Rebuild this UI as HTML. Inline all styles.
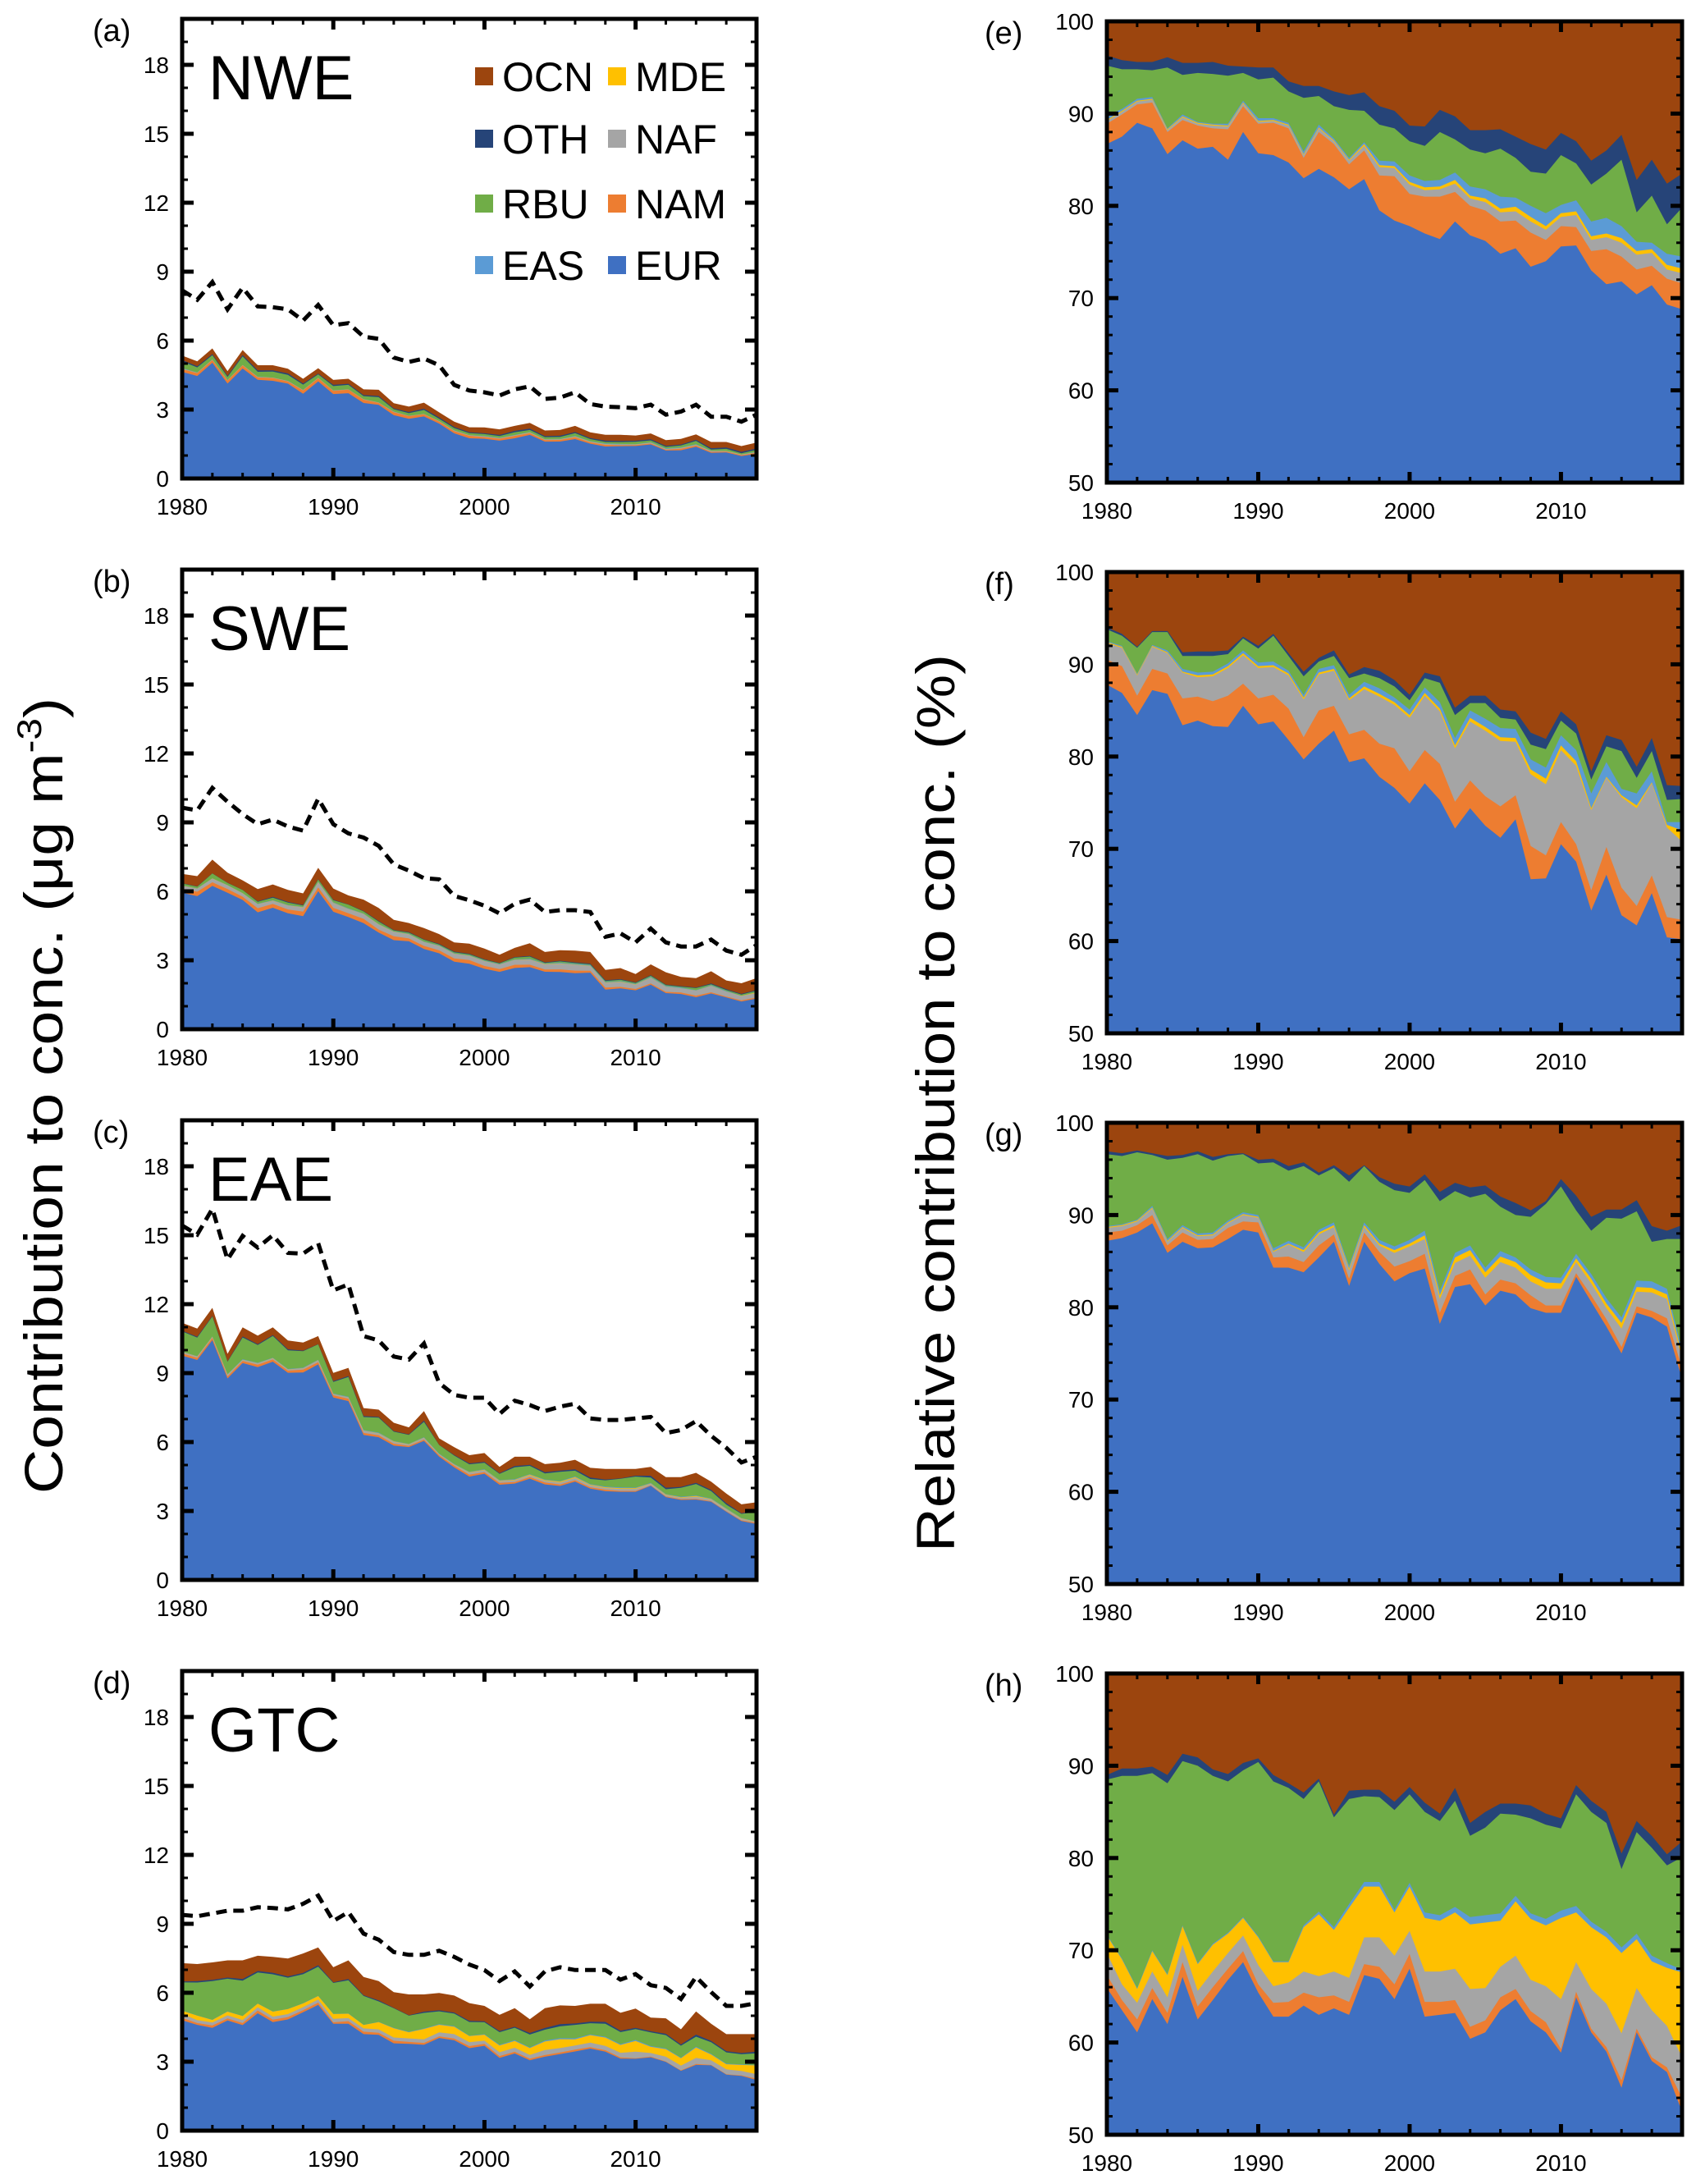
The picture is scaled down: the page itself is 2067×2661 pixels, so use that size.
<!DOCTYPE html>
<html><head><meta charset="utf-8"><style>
html,body{margin:0;padding:0;background:#fff;}
svg{display:block;font-family:"Liberation Sans",sans-serif;}
</style></head><body>
<svg id="fig" width="2067" height="2661" viewBox="0 0 2067 2661" xmlns="http://www.w3.org/2000/svg">
<g id="marks"></g>
<text transform="translate(76,1335) rotate(-90)" text-anchor="middle" font-size="66" textLength="970" lengthAdjust="spacingAndGlyphs">Contribution to conc. (μg m<tspan dy="-26" font-size="42">-3</tspan><tspan dy="26">)</tspan></text>
<text transform="translate(1163,1344) rotate(-90)" text-anchor="middle" font-size="66" textLength="1094" lengthAdjust="spacingAndGlyphs">Relative contribution to conc. (%)</text>
<g font-size="50">
<rect x="579" y="82" width="22" height="22" fill="#9C450E"/><text x="612" y="111">OCN</text>
<rect x="741" y="82" width="22" height="22" fill="#FFC000"/><text x="774" y="111">MDE</text>
<rect x="579" y="158" width="22" height="22" fill="#264478"/><text x="612" y="187">OTH</text>
<rect x="741" y="158" width="22" height="22" fill="#A5A5A5"/><text x="774" y="187">NAF</text>
<rect x="579" y="237" width="22" height="22" fill="#70AD47"/><text x="612" y="266">RBU</text>
<rect x="741" y="237" width="22" height="22" fill="#ED7D31"/><text x="774" y="266">NAM</text>
<rect x="579" y="312" width="22" height="22" fill="#5B9BD5"/><text x="612" y="341">EAS</text>
<rect x="741" y="312" width="22" height="22" fill="#3F70C2"/><text x="774" y="341">EUR</text>
</g>
</svg>
<script>
const years=[];for(let y=1980;y<=2018;y++)years.push(y);
const sources=["EUR","NAM","NAF","MDE","EAS","RBU","OTH","OCN"];
const colors=["#3F70C2","#ED7D31","#A5A5A5","#FFC000","#5B9BD5","#70AD47","#264478","#9C450E"];
const regionNames=["NWE","SWE","EAE","GTC"];
const leftYTicks=[0,3,6,9,12,15,18];
const rightYTicks=[50,60,70,80,90,100];
const xTicks=[1980,1990,2000,2010];

// NWE (a,e)
const nwe_total=[5.35,5.1,5.66,4.67,5.59,4.93,4.93,4.78,4.34,4.8,4.29,4.34,3.88,3.86,3.28,3.13,3.3,2.88,2.47,2.23,2.22,2.14,2.29,2.42,2.09,2.11,2.29,2.01,1.9,1.9,1.87,1.96,1.67,1.72,1.92,1.59,1.59,1.41,1.56];
const nwe_conc=[8.19,7.78,8.55,7.36,8.3,7.49,7.45,7.36,6.87,7.55,6.67,6.76,6.17,6.08,5.26,5.07,5.22,4.93,4.07,3.83,3.75,3.61,3.88,4.01,3.46,3.52,3.75,3.24,3.13,3.1,3.06,3.21,2.78,2.91,3.21,2.69,2.69,2.47,2.78];
const nwe_EUR=[86.7,87.5,89,88.4,85.6,87.1,86.2,86.4,85,88,85.7,85.5,84.7,83,84,83.1,81.8,82.9,79.5,78.4,77.8,77,76.4,78.3,76.8,76.2,74.8,75.4,73.4,74,75.6,75.7,73,71.5,71.8,70.4,71.4,69.3,68.8];
const nwe_NAM=[88.9,89.9,91,91.2,88,89.3,88.7,88.4,88.3,90.8,88.9,89,88.4,85.2,88,86.7,84.5,86,83.3,83.2,81.3,81,81,81.5,80,79.5,78.3,78.4,77.1,76.3,77.8,77.7,75.1,75.3,74.5,73.1,73.5,72.1,71.6];
const nwe_NAF=[89.2,90.2,91.3,91.5,88.2,89.6,88.9,88.7,88.6,91.1,89.1,89.2,88.7,85.5,88.4,87,84.9,86.5,84.2,84.1,82.3,81.7,81.8,82.4,80.8,80.4,79.3,79.4,78.3,77.4,78.8,79,76.3,76.6,76,74.7,74.9,73.1,72.7];
const nwe_MDE=[89.3,90.3,91.4,91.6,88.3,89.7,89,88.8,88.7,91.2,89.2,89.3,88.8,85.6,88.5,87.1,85,86.7,84.4,84.3,82.6,82,82.1,82.8,81.1,80.8,79.7,79.9,78.8,77.8,79.2,79.4,76.7,77,76.5,75.1,75.3,73.6,73.2];
const nwe_EAS=[89.8,90.5,91.6,91.8,88.4,89.9,89.1,88.9,88.9,91.4,89.5,89.5,89,85.9,88.8,87.3,85.2,86.9,84.9,84.8,83.3,82.7,82.8,83.6,82.1,81.8,81,80.9,80,79.2,80.1,80.6,78.3,78.7,77.8,76.1,76,74.8,74.5];
const nwe_RBU=[95.2,94.8,94.8,94.7,95,94.2,94.4,94.3,94.1,94.4,93.7,93.9,92.4,91.7,91.9,90.8,90.4,90.3,88.8,88.4,87,86.5,88,87.2,86.1,85.7,86.2,85.2,83.7,83.5,85.5,84.6,82.3,83.5,85,79.3,81.1,78,79.8];
const nwe_OTH=[96.3,95.8,95.6,95.6,96.1,95.5,95.5,95.6,95.2,95.1,95,95,93.5,93,93,92.4,92,92.3,90.8,90.3,88.7,88.6,90.4,89.7,88.2,88.2,88.3,87.5,86.7,86.1,87.9,87,84.9,86,87.7,82.8,85,82.4,83.5];

// SWE (b,f)
const swe_total=[6.76,6.66,7.38,6.81,6.48,6.10,6.30,6.06,5.91,7.02,6.12,5.82,5.64,5.28,4.76,4.62,4.40,4.14,3.78,3.72,3.51,3.24,3.54,3.74,3.36,3.44,3.42,3.36,2.58,2.66,2.40,2.82,2.48,2.28,2.22,2.52,2.12,2.00,2.22];
const swe_conc=[9.64,9.52,10.5,9.90,9.36,8.92,9.12,8.82,8.64,10.03,8.92,8.52,8.34,7.98,7.17,6.90,6.57,6.52,5.80,5.61,5.37,5.04,5.46,5.64,5.10,5.18,5.18,5.10,4.02,4.17,3.78,4.38,3.78,3.60,3.60,3.90,3.42,3.24,3.66];
const swe_EUR=[87.8,86.9,84.5,87.2,86.8,83.4,83.9,83.3,83.2,85.5,83.5,83.8,81.8,79.7,81.4,82.8,79.4,79.8,77.8,76.6,74.9,77.1,75.3,72.2,74.4,72.5,71.2,73.2,66.7,66.8,70.5,68.6,63.3,67.2,62.8,61.7,65.2,60.4,60.2];
const swe_NAM=[90.5,89.8,86.6,89.5,89,86.3,86.5,86,86.6,87.9,86.3,86.7,85.2,82.1,85,85.5,82.4,82.9,81.4,80.9,78.4,80.7,79.2,75.1,77.4,75.7,74.6,75.8,70.3,69.3,72.9,70.5,65.5,70.2,65.8,63.8,67.1,62.6,62.3];
const swe_NAF=[92.3,91.8,88.8,91.9,91.2,89.1,88.6,88.7,89.6,91.0,89.6,89.7,88.8,86.2,88.9,89.3,86.1,87.3,86.5,85.6,84.2,86.6,84.9,80.9,83.8,82.8,81.7,81.6,78.1,77.0,80.7,79.0,74.2,77.7,75.6,74.4,77.1,72.3,70.8];
const swe_MDE=[92.4,91.9,88.9,92.0,91.3,89.2,88.8,88.9,89.8,91.2,89.8,89.9,89.0,86.4,89.1,89.5,86.3,87.6,86.8,85.9,84.5,86.9,85.2,81.2,84.2,83.2,82.1,82.0,78.6,77.6,81.2,79.5,74.4,77.8,75.8,74.7,77.2,72.6,72.0];
const swe_EAS=[92.5,92.0,89.0,92.1,91.5,89.5,89.1,89.2,90.1,91.5,90.2,90.3,89.3,86.7,89.5,89.9,86.7,88.1,87.4,86.4,85.1,87.5,85.9,82.0,85.0,84.1,83.1,83.0,79.7,78.8,82.3,80.7,76.0,79.4,76.5,76.0,78.4,72.9,72.9];
const swe_RBU=[93.8,93.1,91.8,93.5,93.5,90.9,90.9,90.9,91.1,92.8,91.7,93.1,90.9,88.7,90.3,90.9,88.5,89.0,88.5,87.6,86.1,88.5,88.0,84.5,85.8,85.8,84.2,84.0,81.3,80.8,83.9,82.5,77.5,81.1,80.6,77.7,80.6,75.3,75.4];
const swe_OTH=[94.0,93.3,91.9,93.6,93.6,91.3,91.4,91.4,91.5,93.0,92.0,93.3,91.2,89.2,90.7,91.5,88.9,89.7,89.3,88.3,86.7,89.1,88.7,85.3,86.6,86.6,85.1,84.9,82.6,81.9,84.9,83.5,78.4,82.3,81.8,78.9,82.0,76.9,76.8];

// EAE (c,g)
const eae_total=[11.19,10.94,11.84,9.84,10.99,10.63,10.99,10.42,10.33,10.61,9.01,9.23,7.48,7.41,6.84,6.64,7.35,6.16,5.78,5.43,5.52,4.92,5.36,5.36,5.04,5.10,5.23,4.88,4.83,4.83,4.83,4.92,4.47,4.47,4.66,4.28,3.76,3.29,3.38];
const eae_conc=[15.42,15.03,16.15,13.94,14.97,14.46,15.0,14.23,14.2,14.65,12.6,12.86,10.61,10.42,9.72,9.59,10.29,8.57,8.05,7.93,7.93,7.22,7.80,7.61,7.35,7.54,7.67,7.03,6.96,6.96,7.03,7.09,6.39,6.52,6.91,6.27,5.75,5.11,5.36];
const eae_EUR=[87.2,87.5,88.1,89.1,85.9,87.1,86.4,86.5,87.4,88.4,88.1,84.3,84.3,83.8,85.4,87.1,82.3,87.1,84.7,82.8,83.7,84.2,78.2,82.2,82.5,80.2,81.8,81.4,79.9,79.4,79.4,83.3,80.6,77.9,75.0,79.4,78.9,77.9,72.2];
const eae_NAM=[88.1,88.3,88.9,90.0,86.7,88.1,87.3,87.4,88.6,89.3,89.2,85.4,85.5,84.9,86.7,87.9,83.1,88.1,86.0,84.4,85.0,85.8,79.4,83.4,84.1,81.4,83.0,82.6,81.3,80.2,80.2,83.7,81.3,78.7,75.7,80.1,79.6,78.8,73.4];
const eae_NAF=[88.6,88.8,89.3,90.7,87.1,88.6,87.7,87.8,89.1,90.0,89.7,86.0,86.8,86.0,87.9,88.7,84.0,88.7,86.7,85.9,86.6,87.4,80.9,84.8,85.6,83.2,84.9,84.3,82.8,82.0,82.0,84.9,82.6,79.9,77.7,81.7,81.6,80.9,74.4];
const eae_MDE=[88.7,88.9,89.4,90.8,87.2,88.7,87.8,87.9,89.2,90.1,89.8,86.1,86.9,86.2,88.1,88.9,84.2,88.9,86.9,86.2,86.9,87.8,81.3,85.4,86.2,83.8,85.5,84.9,83.5,82.7,82.6,85.3,83.1,80.4,78.3,82.2,82.1,81.4,74.8];
const eae_EAS=[88.8,89.0,89.5,91.0,87.4,88.9,88.0,88.1,89.4,90.3,90.0,86.4,87.2,86.5,88.4,89.2,84.5,89.2,87.3,86.6,87.3,88.3,81.8,85.9,86.7,84.3,86.1,85.4,84.1,83.3,83.2,85.8,83.6,81.0,78.9,82.9,82.8,82.0,75.3];
const eae_RBU=[96.6,96.4,96.8,96.5,96.0,96.2,96.6,95.9,96.4,96.6,95.6,95.7,94.8,95.3,94.3,95.1,93.6,95.3,93.6,92.7,92.4,93.8,91.5,92.6,91.9,92.3,90.9,90.0,89.8,91.2,93.1,90.5,88.3,89.7,89.6,90.4,87.1,87.4,87.4];
const eae_OTH=[96.9,96.7,97.0,96.7,96.4,96.5,96.9,96.3,96.6,96.7,96.0,96.1,95.3,95.7,94.6,95.4,94.3,95.4,94.1,93.4,93.1,94.4,92.5,93.5,93.0,93.2,92.0,91.3,90.5,91.5,93.9,92.1,89.8,90.6,90.6,91.6,88.8,88.3,88.9];

// GTC (d,h)
const gtc_total=[7.29,7.25,7.32,7.41,7.41,7.61,7.56,7.49,7.71,7.97,7.11,7.41,6.69,6.51,6.03,5.93,5.93,5.99,5.88,5.55,5.43,5.04,5.33,4.85,5.33,5.45,5.43,5.52,5.52,5.13,5.31,4.92,4.89,4.41,5.19,4.65,4.20,4.20,4.20];
const gtc_conc=[9.39,9.33,9.45,9.57,9.57,9.72,9.69,9.63,9.87,10.23,9.12,9.51,8.57,8.31,7.77,7.65,7.65,7.83,7.56,7.23,6.99,6.51,6.93,6.27,6.93,7.11,6.99,6.99,6.99,6.57,6.81,6.33,6.21,5.73,6.69,6.03,5.43,5.43,5.55];
const gtc_EUR=[65.9,63.5,61.1,64.7,62.0,67.1,62.5,64.6,66.8,68.7,65.4,62.8,62.8,64.0,63.0,63.7,63.0,67.3,66.9,64.7,68.0,62.8,63.0,63.2,60.4,61.1,63.5,64.7,62.3,61.1,58.9,64.9,61.1,59.0,55.1,61.1,58.0,56.8,52.5];
const gtc_NAM=[67.3,64.6,62.5,65.9,63.2,68.7,63.9,66.0,68.0,69.9,66.3,64.3,64.4,65.4,64.9,65.1,64.4,68.5,68.2,66.3,69.6,64.4,64.4,64.6,61.7,62.4,64.9,65.8,63.4,62.2,59.3,65.5,61.5,59.5,55.9,61.5,58.4,57.3,54.0];
const gtc_NAF=[69.7,66.3,64.3,67.7,64.9,70.6,65.6,67.7,69.7,71.6,68.4,66.1,66.5,67.7,67.2,67.7,67.0,71.4,71.4,69.4,72.1,67.7,67.7,68.0,65.8,65.9,68.2,69.4,66.8,66.1,64.7,68.7,65.8,64.2,61.0,65.9,63.5,61.8,58.4];
const gtc_MDE=[71.6,69.0,65.8,69.9,67.3,72.6,68.5,70.6,71.8,73.5,71.4,68.7,68.7,72.5,73.9,72.2,74.6,76.9,76.9,74.1,76.9,73.5,73.2,74.1,72.8,73.0,73.2,75.3,73.4,72.7,73.5,74.1,72.5,71.4,69.7,71.2,68.8,68.1,67.6];
const gtc_EAS=[71.7,69.1,65.9,70.0,67.4,72.7,68.6,70.7,71.9,73.6,71.5,68.8,68.8,72.7,74.2,72.5,75.0,77.4,77.4,74.4,77.3,74.1,73.8,74.7,73.6,73.8,74.0,75.9,74.0,73.4,74.3,74.8,73.1,72.0,70.3,71.8,69.4,68.6,67.9];
const gtc_RBU=[88.5,88.9,88.9,89.2,88.1,90.5,90.0,88.9,88.3,89.5,90.4,88.3,87.6,86.4,88.3,84.4,86.4,86.7,86.6,85.2,86.9,85.0,84.0,86.2,82.4,83.3,84.8,84.7,84.3,83.6,83.2,86.9,85.0,83.8,78.8,82.8,81.1,79.2,80.1];
const gtc_OTH=[89.0,89.7,89.7,89.9,89.0,91.3,90.9,89.6,89.1,90.3,90.8,89.0,88.1,87.1,88.6,84.7,87.3,87.4,87.4,86.1,87.7,86.0,84.8,87.6,83.8,85.0,85.9,85.9,85.7,84.8,84.3,87.9,86.2,85.0,80.5,84.0,82.4,80.4,81.8];

const regions=[
 {name:"NWE",total:nwe_total,conc:nwe_conc,cum:[nwe_EUR,nwe_NAM,nwe_NAF,nwe_MDE,nwe_EAS,nwe_RBU,nwe_OTH]},
 {name:"SWE",total:swe_total,conc:swe_conc,cum:[swe_EUR,swe_NAM,swe_NAF,swe_MDE,swe_EAS,swe_RBU,swe_OTH]},
 {name:"EAE",total:eae_total,conc:eae_conc,cum:[eae_EUR,eae_NAM,eae_NAF,eae_MDE,eae_EAS,eae_RBU,eae_OTH]},
 {name:"GTC",total:gtc_total,conc:gtc_conc,cum:[gtc_EUR,gtc_NAM,gtc_NAF,gtc_MDE,gtc_EAS,gtc_RBU,gtc_OTH]}
];
const NS="http://www.w3.org/2000/svg";
const root=document.getElementById('marks');
function mk(tag,attrs,parent){const e=document.createElementNS(NS,tag);for(const k in attrs)e.setAttribute(k,attrs[k]);(parent||root).appendChild(e);return e;}

function drawPanel(p){
  const g=mk('g',{});
  
  
  const xs=y=>p.x0+(y-1980)/(2018-1980)*(p.x1-p.x0);
  const ys=v=>p.yb-(v-p.vmin)/(p.vmax-p.vmin)*(p.yb-p.yt);
  // layers: from top (OCN) down, filled to baseline
  for(let k=7;k>=0;k--){
    const vals=years.map((y,i)=>p.layerTop(k,i));
    let d='M'+xs(years[0])+','+ys(p.vmin);
    years.forEach((y,i)=>{d+=' L'+xs(y).toFixed(1)+','+ys(Math.max(p.vmin,vals[i])).toFixed(1);});
    d+=' L'+xs(years[years.length-1])+','+ys(p.vmin)+' Z';
    const a=mk('path',{d:d,fill:colors[k]},g);
    
    
  }
  if(p.conc){
    let d='';
    years.forEach((y,i)=>{d+=(i?' L':'M')+xs(y).toFixed(1)+','+ys(p.conc[i]).toFixed(1);});
    const l=mk('path',{d:d,fill:'none',stroke:'#000','stroke-width':5,'stroke-dasharray':'13,8'},g);
    
    
  }
  // ticks
  const tg=mk('g',{stroke:'#000'},g);
  
  
  for(let y=1980;y<=2018;y+=2){
    const maj=(y%10===0);const L=maj?13:7;const w=maj?5:3;
    mk('line',{x1:xs(y),x2:xs(y),y1:p.yb,y2:p.yb-L,'stroke-width':w},tg);
    mk('line',{x1:xs(y),x2:xs(y),y1:p.yt,y2:p.yt+L,'stroke-width':w},tg);
  }
  for(let v=p.vmin;v<=p.vmax;v+=p.minor){
    const maj=p.yticks.indexOf(v)>=0;const L=maj?14:7;const w=maj?5:3;
    mk('line',{x1:p.x0,x2:p.x0+L,y1:ys(v),y2:ys(v),'stroke-width':w},tg);
    mk('line',{x1:p.x1,x2:p.x1-L,y1:ys(v),y2:ys(v),'stroke-width':w},tg);
  }
  const fr=mk('rect',{x:p.x0,y:p.yt,width:p.x1-p.x0,height:p.yb-p.yt,fill:'none',stroke:'#000','stroke-width':5},g);
  
  
  p.yticks.forEach(v=>{
    const t=mk('text',{x:p.x0-16,y:ys(v)+10,'text-anchor':'end','font-size':28},g);
    t.textContent=v;
    
    
  });
  xTicks.forEach(v=>{
    const t=mk('text',{x:xs(v),y:p.yb+44,'text-anchor':'middle','font-size':28},g);
    t.textContent=v;
    
    
  });
  const lt=mk('text',{x:p.letterX,y:p.yt+27,'font-size':38},g);
  lt.textContent='('+p.letter+')';
  
  
  if(p.title){
    const tt=mk('text',{x:p.x0+32,y:p.yt+98,'font-size':76},g);
    tt.textContent=p.title;
    
    
  }
}
const letsL=['a','b','c','d'],letsR=['e','f','g','h'];
regions.forEach((r,ri)=>{
  const off=671*ri;
  drawPanel({id:'panel-'+letsL[ri],x0:222,x1:922,yt:23+off,yb:583+off,vmin:0,vmax:20,minor:1,yticks:leftYTicks,
    letter:letsL[ri],letterX:113,title:r.name,conc:r.conc,
    layerTop:(k,i)=>k===7?r.total[i]:r.total[i]*r.cum[k][i]/100});
  drawPanel({id:'panel-'+letsR[ri],x0:1349,x1:2050,yt:26+off,yb:588+off,vmin:50,vmax:100,minor:2,yticks:rightYTicks,
    letter:letsR[ri],letterX:1200,title:null,conc:null,
    layerTop:(k,i)=>k===7?100:r.cum[k][i]});
});
</script>
</body></html>
